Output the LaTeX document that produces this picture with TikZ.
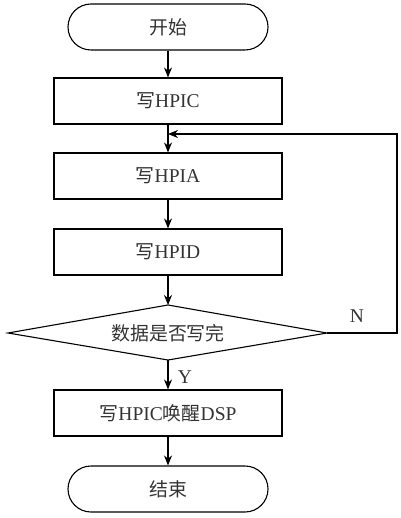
\documentclass[tikz,border=0pt]{standalone}
\usepackage{fontspec}
\setmainfont{Liberation Serif}
\newfontfamily\cjk{Noto Sans CJK SC}[Scale=0.97]
\usetikzlibrary{shapes.geometric,arrows.meta}
\begin{document}
\begin{tikzpicture}[x=1pt,y=-1pt,
  line width=1.1pt,
  every node/.style={font=\fontsize{19.5}{22}\selectfont, text=black!80},
  term/.style={draw=black, rectangle, rounded corners=23pt, minimum width=200pt, minimum height=46pt, inner sep=0pt},
  proc/.style={draw=black, rectangle, minimum width=228pt, minimum height=46pt, inner sep=0pt},
  arr/.style={-{Stealth[length=10pt,width=8pt]}, draw=black},
  lbl/.style={inner sep=0pt}
]
\useasboundingbox (0,0) rectangle (400,518);
\node[term] (start) at (168,27) {{\cjk 开始}};
\node[proc] (b1) at (168,101) {{\cjk 写}HPIC};
\node[proc] (b2) at (168,176) {{\cjk 写}HPIA};
\node[proc] (b3) at (168,252) {{\cjk 写}HPID};
\coordinate (dt) at (168,305);
\coordinate (db) at (168,360);
\coordinate (dl) at (8,333);
\coordinate (dr) at (327,333);
\draw (dt) -- (dr) -- (db) -- (dl) -- cycle;
\node (d) at (168,333) {{\cjk 数据是否写完}};
\node[proc] (b4) at (168,413) {{\cjk 写}HPIC{\cjk 唤醒}DSP};
\node[term] (end) at (168,489) {{\cjk 结束}};
\coordinate (j) at (168,134);
\coordinate (r1) at (397,333);
\coordinate (r2) at (397,134);
\draw[arr] (start) -- (b1);
\draw[arr] (b1) -- (b2);
\draw[arr] (b2) -- (b3);
\draw[arr] (b3) -- (dt);
\draw[arr] (db) -- (b4);
\draw[arr] (b4) -- (end);
\draw[arr] (dr) -- (r1) -- (r2) -- (j);
\node[lbl] (n) at (357,316) {N};
\node[lbl] (y) at (185,377) {Y};
\end{tikzpicture}
\end{document}
